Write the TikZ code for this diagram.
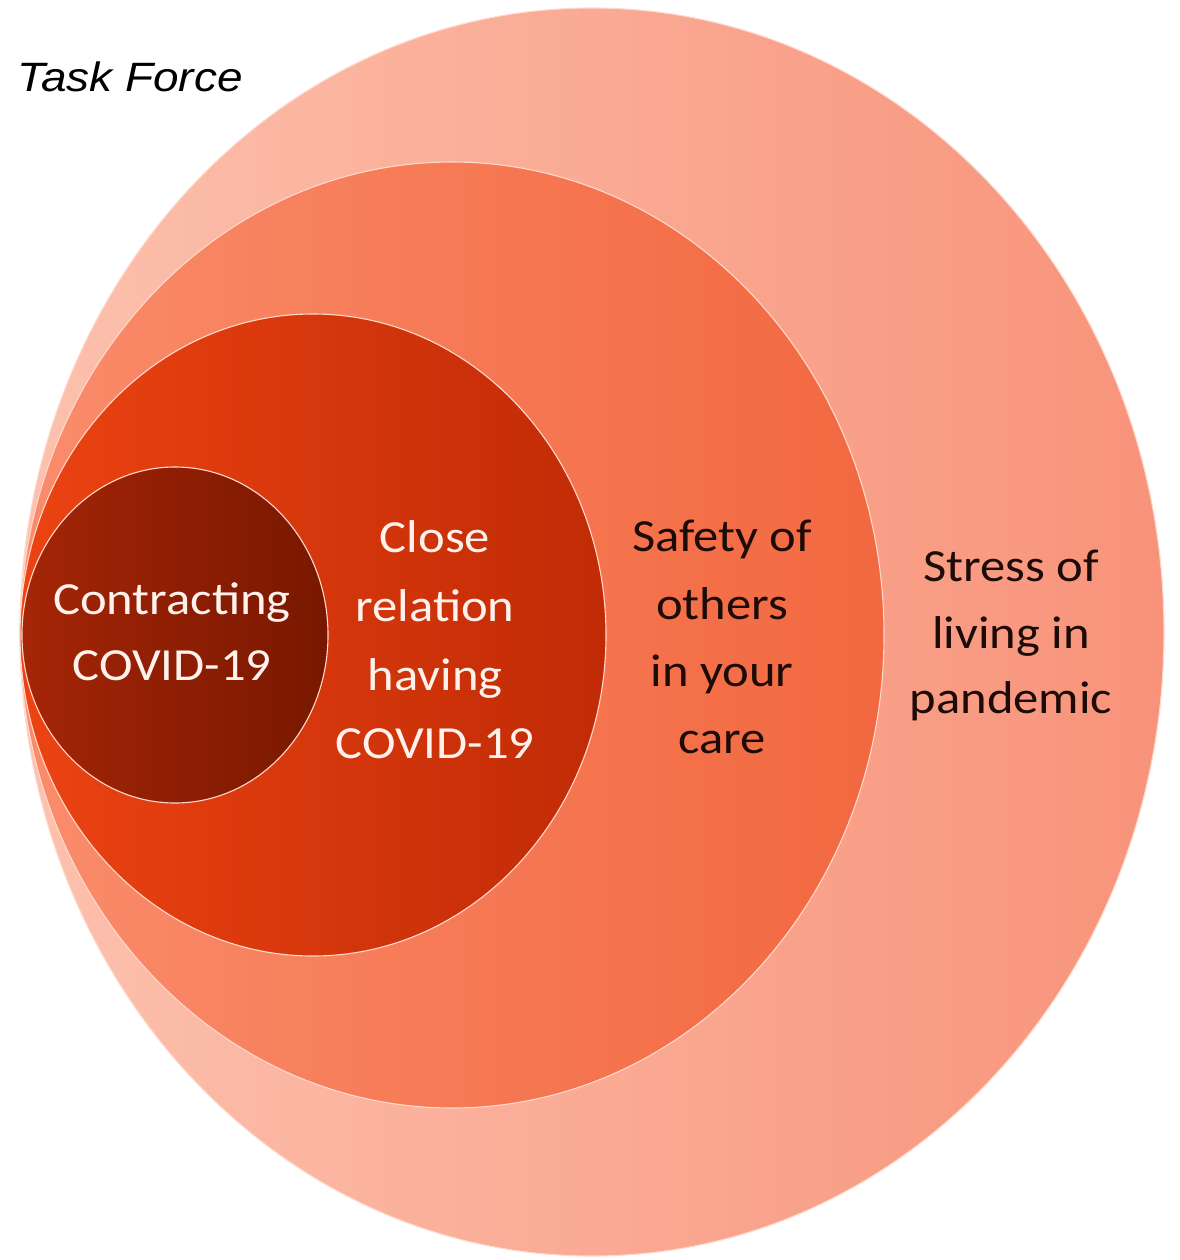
\documentclass[tikz,border=0pt]{standalone}
\usepackage{fontspec}
\setmainfont{Carlito}
\newfontfamily\bodyfont{Carlito}[FakeStretch=1.1]
\newfontfamily\tffont{Liberation Sans}[FakeStretch=1.12]
\definecolor{ringA1}{HTML}{FCC1AE}
\definecolor{ringA2}{HTML}{F8937A}
\definecolor{ringB1}{HTML}{FA8C6B}
\definecolor{ringB2}{HTML}{F26840}
\definecolor{ringC1}{HTML}{EC4312}
\definecolor{ringC2}{HTML}{C02B06}
\definecolor{ringD1}{HTML}{A52507}
\definecolor{ringD2}{HTML}{781800}
\definecolor{rim}{HTML}{FFD9CB}
\definecolor{lighttext}{HTML}{FFF2EC}
\definecolor{darktext}{HTML}{1C0B06}
\tikzset{
  ring/.style={draw=rim, line width=1.1pt},
  lightlbl/.style={font=\bodyfont\fontsize{46}{54}\selectfont, text=lighttext, anchor=base, inner sep=0pt},
  darklbl/.style={font=\bodyfont\fontsize{46}{54}\selectfont, text=darktext, anchor=base, inner sep=0pt},
  titlelbl/.style={font=\tffont\itshape\fontsize{41}{48}\selectfont, text=black, anchor=base west, inner sep=0pt}
}
\begin{document}
\begin{tikzpicture}[x=1pt,y=-1pt]
\useasboundingbox (0,0) rectangle (1179,1260);
\fill[white] (0,0) rectangle (1179,1260);
% rings
\shade[ring, left color=ringA1, right color=ringA2] (592,632) ellipse [x radius=572pt, y radius=624pt];
\shade[ring, left color=ringB1, right color=ringB2] (452,635) ellipse [x radius=432pt, y radius=473pt];
\shade[ring, left color=ringC1, right color=ringC2] (313,635) ellipse [x radius=293pt, y radius=321pt];
\shade[ring, left color=ringD1, right color=ringD2] (175,635) ellipse [x radius=153pt, y radius=168pt];
% title
\node[titlelbl] (title) at (17,92) {Task Force};
% inner
\node[lightlbl] (d1) at (172,614) {Contracting};
\node[lightlbl] (d2) at (172,680) {COVID-19};
% third
\node[lightlbl] (c1) at (435,552) {Close};
\node[lightlbl] (c2) at (435,621) {relation};
\node[lightlbl] (c3) at (435,690) {having};
\node[lightlbl] (c4) at (435,758) {COVID-19};
% second
\node[darklbl] (b1) at (722,551) {Safety of};
\node[darklbl] (b2) at (722,619) {others};
\node[darklbl] (b3) at (722,686) {in your};
\node[darklbl] (b4) at (722,753) {care};
% outer
\node[darklbl] (a1) at (1011,581) {Stress of};
\node[darklbl] (a2) at (1011,648) {living in};
\node[darklbl] (a3) at (1011,713) {pandemic};
\end{tikzpicture}
\end{document}
